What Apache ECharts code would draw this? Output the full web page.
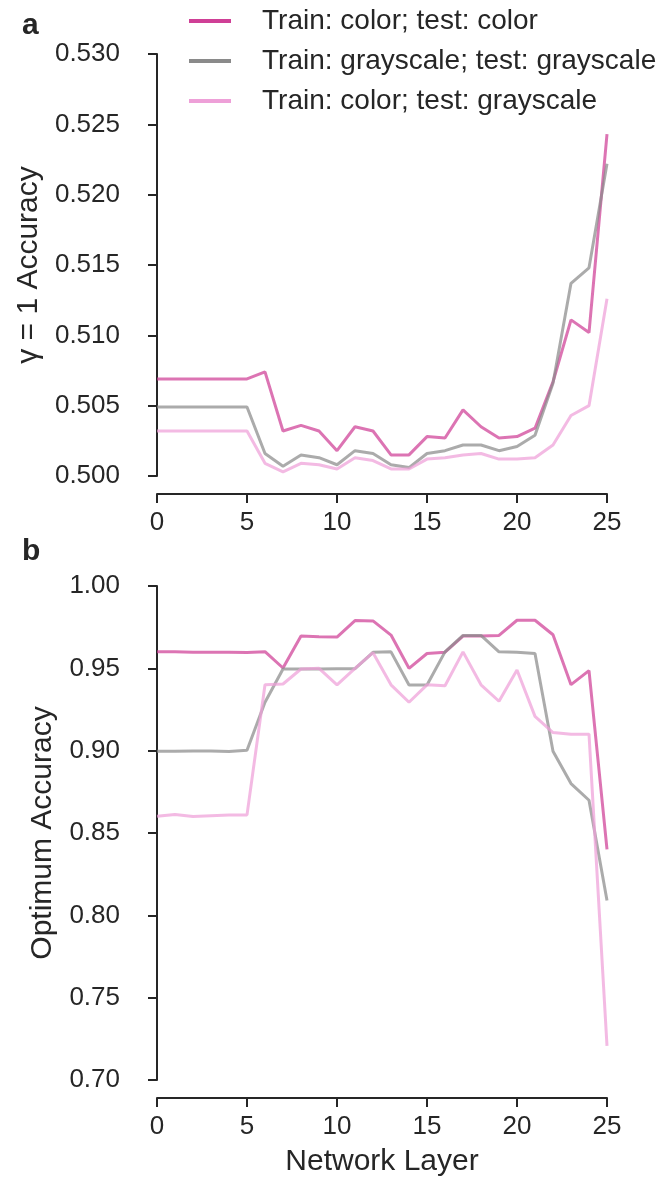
<!DOCTYPE html>
<html>
<head>
<meta charset="utf-8">
<script src="https://cdn.jsdelivr.net/npm/echarts@6/dist/echarts.min.js"></script>
<style>html,body{margin:0;padding:0;background:#fff}#c{width:660px;height:1178px}</style>
</head>
<body>
<div id="c"></div>
<script>
const layers = [0,1,2,3,4,5,6,7,8,9,10,11,12,13,14,15,16,17,18,19,20,21,22,23,24,25];
const seriesNames = ['Train: color; test: color','Train: grayscale; test: grayscale','Train: color; test: grayscale'];
const xTicks = [0,5,10,15,20,25];

const gammaColorColor = [0.5069,0.5069,0.5069,0.5069,0.5069,0.5069,0.5074,0.5032,0.5036,0.5032,0.5018,0.5035,0.5032,0.5015,0.5015,0.5028,0.5027,0.5047,0.5035,0.5027,0.5028,0.5034,0.5067,0.5111,0.5102,0.5243];
const gammaGrayGray   = [0.5049,0.5049,0.5049,0.5049,0.5049,0.5049,0.5016,0.5007,0.5015,0.5013,0.5008,0.5018,0.5016,0.5008,0.5006,0.5016,0.5018,0.5022,0.5022,0.5018,0.5021,0.5029,0.5066,0.5137,0.5148,0.5222];
const gammaColorGray  = [0.5032,0.5032,0.5032,0.5032,0.5032,0.5032,0.5009,0.5003,0.5009,0.5008,0.5005,0.5013,0.5011,0.5005,0.5005,0.5012,0.5013,0.5015,0.5016,0.5012,0.5012,0.5013,0.5022,0.5043,0.5050,0.5126];

const optColorColor = [0.9600,0.9600,0.9598,0.9597,0.9597,0.9596,0.9601,0.9502,0.9696,0.9692,0.9690,0.9790,0.9788,0.9702,0.9500,0.9590,0.9598,0.9696,0.9696,0.9700,0.9792,0.9792,0.9704,0.9401,0.9486,0.8400];
const optGrayGray   = [0.8996,0.8997,0.8998,0.8998,0.8995,0.9003,0.9294,0.9496,0.9496,0.9496,0.9498,0.9498,0.9597,0.9600,0.9399,0.9399,0.9600,0.9700,0.9700,0.9600,0.9597,0.9590,0.8996,0.8800,0.8699,0.8090];
const optColorGray  = [0.8602,0.8613,0.8600,0.8605,0.8610,0.8610,0.9400,0.9405,0.9496,0.9500,0.9400,0.9500,0.9595,0.9400,0.9294,0.9400,0.9394,0.9600,0.9400,0.9300,0.9490,0.9208,0.9110,0.9100,0.9100,0.7207];

const colors = ['#cf3f96','#8a8a8a','#eea0d8'];
const ink = '#262626';
const font = 'Liberation Sans, Arial, Helvetica, sans-serif';

function pairs(vals){ return layers.map((l,i)=>[l, vals[i]]); }

function xAxisCfg(grid, extra){
  return Object.assign({
    gridIndex: grid, type:'value', min:0, max:25, interval:5, offset:18,
    axisLine:{show:true, lineStyle:{color:ink, width:2}},
    axisTick:{show:true, length:9, lineStyle:{color:ink, width:2}},
    axisLabel:{fontSize:26, color:ink, margin:16, fontFamily:font,
      formatter:v=> xTicks.indexOf(v)>=0 ? String(v) : ''},
    splitLine:{show:false}
  }, extra||{});
}
function yAxisCfg(grid, min, max, interval, dec, name, gap){
  return {
    gridIndex: grid, type:'value', min:min, max:max, interval:interval, offset:17,
    name:name, nameLocation:'middle', nameGap:gap,
    nameTextStyle:{fontSize:30, color:ink, fontFamily:font},
    axisLine:{show:true, lineStyle:{color:ink, width:2}},
    axisTick:{show:true, length:9, lineStyle:{color:ink, width:2}},
    axisLabel:{fontSize:26, color:ink, margin:20, fontFamily:font, formatter:v=>v.toFixed(dec)},
    splitLine:{show:false}
  };
}
function lineSeries(name, vals, grid, ci){
  return {
    name:name, type:'line', xAxisIndex:grid, yAxisIndex:grid, data:pairs(vals),
    symbol:'none', showSymbol:false, smooth:false,
    itemStyle:{color:colors[ci]},
    lineStyle:{color:colors[ci], width:3, opacity:0.72},
    emphasis:{disabled:true}
  };
}

const chart = echarts.init(document.getElementById('c'), null, {renderer:'canvas'});
chart.setOption({
  animation:false,
  backgroundColor:'#fff',
  textStyle:{fontFamily:font},
  grid:[
    {left:157, right:53, top:54, height:422},
    {left:157, right:53, top:586, height:494}
  ],
  legend:{
    show:true, orient:'vertical', left:184, top:2,
    icon:'rect', itemWidth:42, itemHeight:4, itemGap:12,
    data:seriesNames,
    textStyle:{fontSize:28, color:ink, fontFamily:font, padding:[0,0,0,26]}
  },
  xAxis:[
    xAxisCfg(0),
    xAxisCfg(1, {name:'Network Layer', nameLocation:'middle', nameGap:49,
      nameTextStyle:{fontSize:30, color:ink, fontFamily:font}})
  ],
  yAxis:[
    yAxisCfg(0, 0.5, 0.53, 0.005, 3, 'γ = 1 Accuracy', 80),
    yAxisCfg(1, 0.7, 1.0, 0.05, 2, 'Optimum Accuracy', 82)
  ],
  graphic:[
    {type:'text', left:22, top:11, style:{text:'a', fontSize:30, fontWeight:'bold', fill:ink, fontFamily:font}},
    {type:'text', left:22, top:537, style:{text:'b', fontSize:30, fontWeight:'bold', fill:ink, fontFamily:font}}
  ],
  series:[
    lineSeries(seriesNames[0], gammaColorColor, 0, 0),
    lineSeries(seriesNames[1], gammaGrayGray, 0, 1),
    lineSeries(seriesNames[2], gammaColorGray, 0, 2),
    lineSeries(seriesNames[0], optColorColor, 1, 0),
    lineSeries(seriesNames[1], optGrayGray, 1, 1),
    lineSeries(seriesNames[2], optColorGray, 1, 2)
  ]
});
</script>
</body>
</html>
